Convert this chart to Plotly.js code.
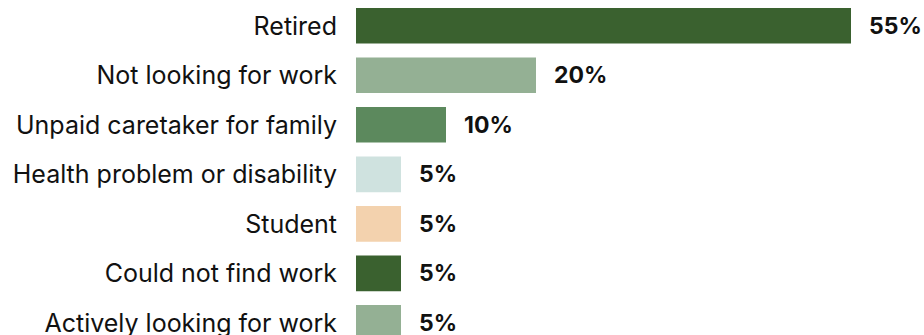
<!DOCTYPE html>
<html>
<head>
<meta charset="utf-8">
<script src="https://cdn.plot.ly/plotly-3.0.1.min.js"></script>
<style>
  html, body { margin: 0; padding: 0; background: #fff; }
  #chart { width: 924px; height: 335px; }
</style>
</head>
<body>
<div id="chart"></div>
<script>
const categories = [
  "Retired",
  "Not looking for work",
  "Unpaid caretaker for family",
  "Health problem or disability",
  "Student",
  "Could not find work",
  "Actively looking for work"
];
const values = [55, 20, 10, 5, 5, 5, 5];
const valueLabels = ["55%", "20%", "10%", "5%", "5%", "5%", "5%"];
const barColors = ["#3a612f", "#94b094", "#5c895d", "#cfe2df", "#f3d2ae", "#3a612f", "#94b094"];

const FONT = "Inter, 'Noto Sans', Arial, sans-serif";

const trace = {
  type: "bar",
  orientation: "h",
  x: values,
  y: categories,
  marker: { color: barColors, line: { width: 0 } },
  hoverinfo: "skip"
};

const annotations = categories.map((c, i) => ({
  x: values[i],
  y: c,
  xref: "x",
  yref: "y",
  text: "<b>" + valueLabels[i] + "</b>",
  showarrow: false,
  xanchor: "left",
  yanchor: "middle",
  xshift: 16,
  font: { family: FONT, size: 23, color: "#111111" }
}));

const layout = {
  width: 924,
  height: 335,
  margin: { l: 356, r: 0, t: 1, b: 0, pad: 0 },
  paper_bgcolor: "#ffffff",
  plot_bgcolor: "#ffffff",
  showlegend: false,
  bargap: 0.28,
  xaxis: {
    range: [0, 568 / 9],
    showgrid: false,
    zeroline: false,
    showline: false,
    showticklabels: false,
    ticks: ""
  },
  yaxis: {
    type: "category",
    categoryorder: "array",
    categoryarray: categories,
    range: [6.245, -0.5],
    showgrid: false,
    zeroline: false,
    showline: false,
    ticks: "",
    ticklabelstandoff: 18,
    tickfont: { family: FONT, size: 25, color: "#111111" }
  },
  annotations: annotations
};

Plotly.newPlot("chart", [trace], layout, { staticPlot: true, displayModeBar: false });
</script>
</body>
</html>
